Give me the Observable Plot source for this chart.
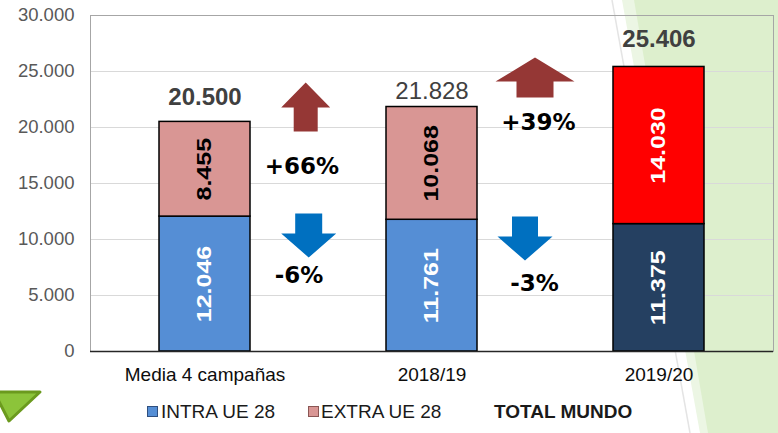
<!DOCTYPE html>
<html>
<head>
<meta charset="utf-8">
<script src="https://cdn.jsdelivr.net/npm/d3@7"></script>
<script src="https://cdn.jsdelivr.net/npm/@observablehq/plot@0.6"></script>
<style>
  html, body { margin: 0; padding: 0; background: #ffffff; }
  #wrap { position: relative; width: 778px; height: 433px; overflow: hidden; font-family: "Liberation Sans", Arial, sans-serif; }
  #decor { position: absolute; left: 0; top: 0; z-index: 0; }
  #chart { position: absolute; left: 0; top: 0; z-index: 1; }
  .leg { position: absolute; top: 401px; font-size: 19px; line-height: 22px; color: #1a1a1a; white-space: nowrap; }
  .sw { position: absolute; top: 406px; width: 9px; height: 9px; box-sizing: content-box; }
</style>
</head>
<body>
<div id="wrap">
  <svg id="decor" width="778" height="433">
    <polygon points="622,0 778,0 778,433 700,433" fill="#ecf6e4"></polygon>
    <polygon points="634,0 778,0 778,433 708,433" fill="#ddefcd"></polygon>
    <line x1="612" y1="0" x2="690" y2="433" stroke="#e4e4e4" stroke-width="1.5"></line>
    <polygon points="-6,392 40,392 9,421" fill="#8cc43a" stroke="#6b9a1e" stroke-width="3" stroke-linejoin="round"></polygon>
  </svg>
  <div id="chart"></div>
  <div id="legend"></div>
</div>
<script>
// ---- data ----
const categories = ["Media 4 campañas", "2018/19", "2019/20"];
const intraUE = [12046, 11761, 11375];
const extraUE = [8455, 10068, 14030];
const totals = [20500, 21828, 25406];
const yTicks = [0, 5000, 10000, 15000, 20000, 25000, 30000];
const extraChange = ["+66%", "+39%"];
const intraChange = ["-6%", "-3%"];
const legendLabels = ["INTRA UE 28", "EXTRA UE 28", "TOTAL MUNDO"];

// ---- styles / layout ----
const colors = {
  intra: "#558ED5", extra: "#D99694",
  intraLast: "#254061", extraLast: "#FF0000",
  up: "#953735", down: "#0070C0"
};
const es = d3.formatLocale({decimal: ",", thousands: ".", grouping: [3], currency: ["", " €"]});
const fmt = es.format(",d");

const segments = [];
categories.forEach((c, i) => {
  const last = i === categories.length - 1;
  segments.push({cat: c, i, series: "intra", value: intraUE[i], base: 0,
    fill: last ? colors.intraLast : colors.intra, labelFill: "#ffffff"});
  segments.push({cat: c, i, series: "extra", value: extraUE[i], base: intraUE[i],
    fill: last ? colors.extraLast : colors.extra, labelFill: last ? "#ffffff" : "#000000"});
});
segments.forEach(d => d.mid = d.base + d.value / 2);

const totalRows = categories.map((c, i) => ({cat: c, total: totals[i]}));
const totalStyle = [
  {dy: -25, weight: "bold"},
  {dy: -15.5, weight: "normal"},
  {dy: -27.5, weight: "bold"}
];

function arrowSymbol(dir, w, h, sw, hh) {
  const s = dir === "up" ? 1 : -1;
  return {
    draw(ctx) {
      const t = -h / 2 * s, b = h / 2 * s, hb = (-h / 2 + hh) * s;
      ctx.moveTo(0, t);
      ctx.lineTo(w / 2, hb);
      ctx.lineTo(sw / 2, hb);
      ctx.lineTo(sw / 2, b);
      ctx.lineTo(-sw / 2, b);
      ctx.lineTo(-sw / 2, hb);
      ctx.lineTo(-w / 2, hb);
      ctx.closePath();
    }
  };
}
// annotation placement (between consecutive categories)
const arrowLayout = [
  {from: 0, dir: "up",   y: 21830, dx: 100.7, w: 49, h: 49, sw: 24, hh: 25},
  {from: 0, dir: "down", y: 10357, dx: 103.7, w: 55, h: 44, sw: 27, hh: 24},
  {from: 1, dir: "up",   y: 24464, dx: 103,   w: 79, h: 40, sw: 37, hh: 24},
  {from: 1, dir: "down", y: 10089, dx: 93,    w: 55, h: 44, sw: 26, hh: 24}
];
const pctLayout = [
  {from: 0, kind: "extra", y: 16518, dx: 97},
  {from: 0, kind: "intra", y: 6786,  dx: 94},
  {from: 1, kind: "extra", y: 20446, dx: 106.5},
  {from: 1, kind: "intra", y: 6071,  dx: 102.5}
];

const marks = [
  Plot.ruleY(yTicks.filter(v => v > yTicks[0] && v < yTicks[yTicks.length - 1]), {stroke: "#d9d9d9", strokeWidth: 1}),
  Plot.frame({stroke: "#a6a6a6", strokeWidth: 1}),
  Plot.rectY(segments, {x: "cat", y1: "base", y2: d => d.base + d.value, fill: d => d.fill, stroke: "#000000", strokeWidth: 1.5}),
  Plot.ruleY([0], {stroke: "#262626", strokeWidth: 1.5}),
  Plot.text(segments, {x: "cat", y: "mid", text: d => fmt(d.value), rotate: -90,
    fill: d => d.labelFill, fontSize: 25, fontWeight: "bold", fontFamily: "Liberation Sans"}),
  ...totalRows.map((r, i) => Plot.text([r], {x: "cat", y: "total", text: d => fmt(d.total),
    dy: totalStyle[i].dy, fontWeight: totalStyle[i].weight, fontSize: 24, fill: "#404040",
    fontFamily: "Liberation Sans"})),
  ...arrowLayout.map(a => Plot.dot([a], {x: d => categories[d.from], y: "y", dx: a.dx, r: 10,
    symbol: arrowSymbol(a.dir, a.w, a.h, a.sw, a.hh), fill: a.dir === "up" ? colors.up : colors.down, stroke: "none"})),
  ...pctLayout.map(p => Plot.text([p], {x: d => categories[d.from], y: "y", dx: p.dx,
    text: d => (d.kind === "extra" ? extraChange : intraChange)[d.from],
    fontSize: 23, fontWeight: "bold", fontFamily: "DejaVu Sans", fill: "#000000"}))
];

const chart = Plot.plot({
  width: 778,
  height: 390,
  marginLeft: 90,
  marginRight: 5,
  marginTop: 15,
  marginBottom: 39,
  style: {background: "transparent", fontFamily: "Liberation Sans", fontSize: "19px", color: "#000000"},
  x: {domain: categories, paddingInner: 0.6, paddingOuter: 0.3, tickSize: 0, tickPadding: 16, label: null},
  y: {domain: [0, 30000], ticks: yTicks, tickFormat: d => fmt(d), tickSize: 0, tickPadding: 16, label: null},
  color: {type: "identity"},
  marks
});
document.getElementById("chart").appendChild(chart);
d3.select(chart).selectAll('[aria-label^="y-axis"] text').attr("fill", "#595959").style("font-size", "18.5px");
d3.select(chart).selectAll('[aria-label^="x-axis"] text').attr("fill", "#0d0d0d");
// slightly condensed glyph height for the rotated in-bar labels
d3.select(chart).selectAll("text").filter(function() {
  return (this.getAttribute("transform") || "").includes("rotate(-90");
}).each(function() {
  this.setAttribute("transform", this.getAttribute("transform") + " scale(1,0.8)");
});

// legend (HTML, below the SVG)
const legend = document.getElementById("legend");
const legendItems = [
  {label: legendLabels[0], sw: colors.intra, border: "#2f4f7f", x: 147, tx: 161},
  {label: legendLabels[1], sw: colors.extra, border: "#8a5654", x: 308, tx: 321},
  {label: legendLabels[2], sw: null, x: 0, tx: 494, bold: true}
];
legendItems.forEach(it => {
  if (it.sw) {
    const s = document.createElement("div");
    s.className = "sw";
    s.style.left = it.x + "px";
    s.style.background = it.sw;
    s.style.border = "1px solid " + it.border;
    legend.appendChild(s);
  }
  const t = document.createElement("div");
  t.className = "leg";
  t.style.left = it.tx + "px";
  if (it.bold) t.style.fontWeight = "bold";
  t.textContent = it.label;
  legend.appendChild(t);
});
</script>
</body>
</html>
